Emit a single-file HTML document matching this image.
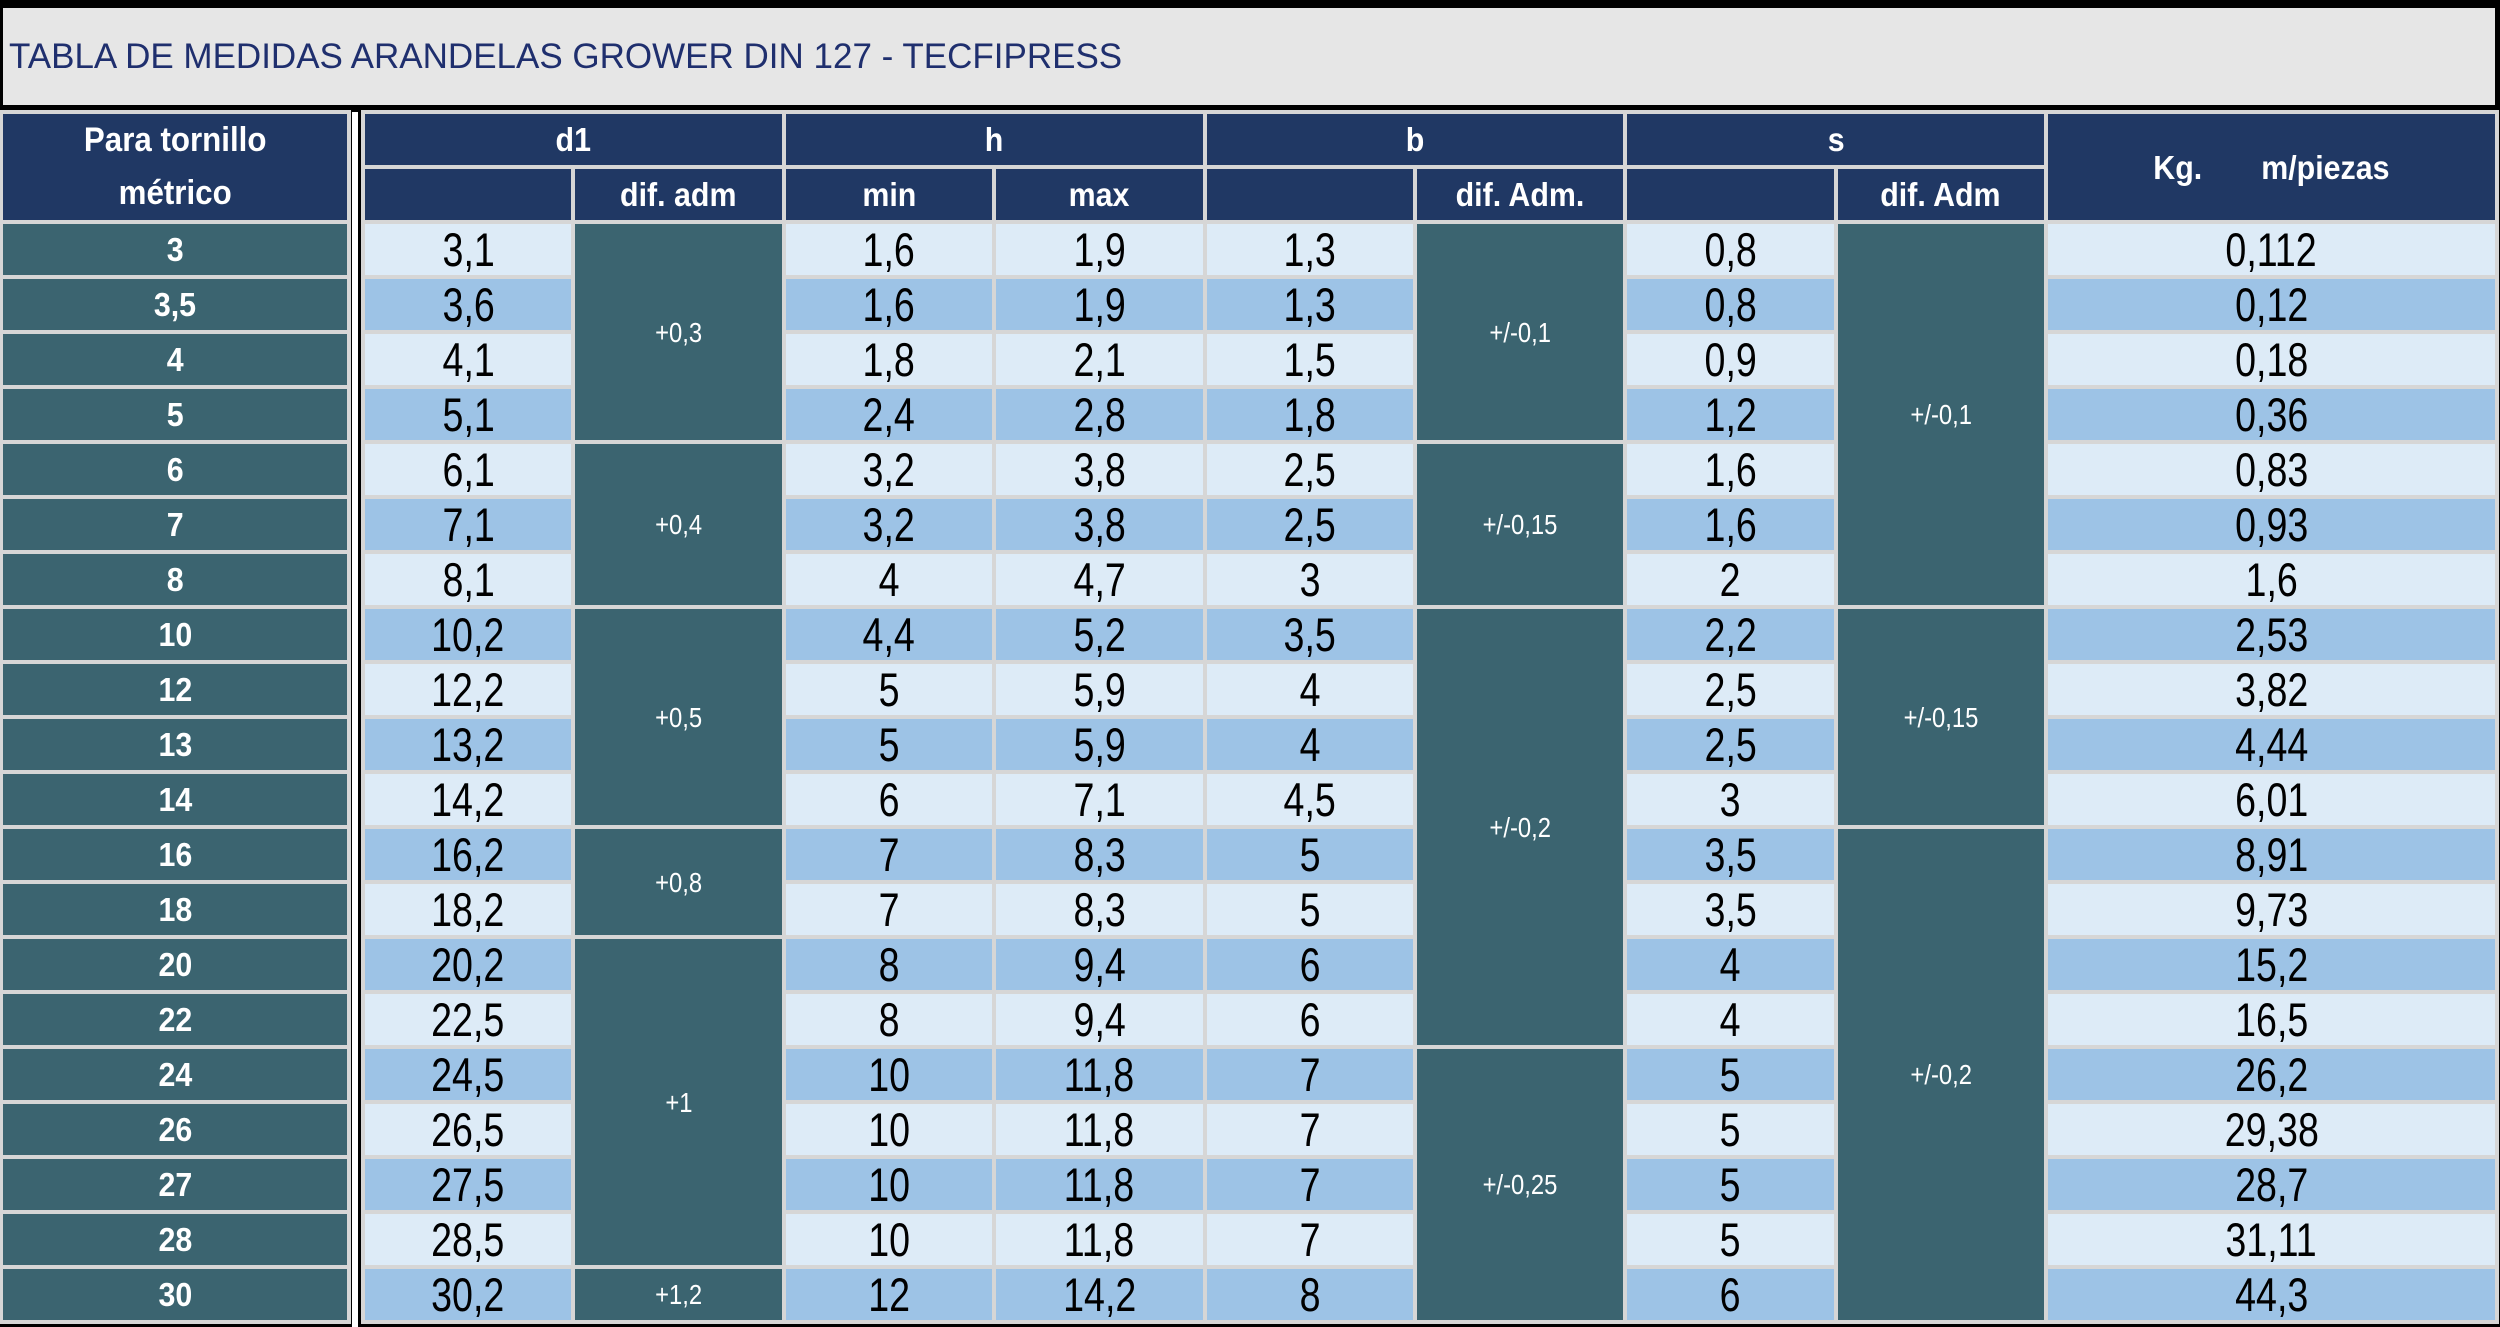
<!DOCTYPE html>
<html><head><meta charset="utf-8"><style>
*{margin:0;padding:0;box-sizing:border-box}
body{width:2500px;height:1327px;background:#000;position:relative;overflow:hidden;font-family:"Liberation Sans",sans-serif}
#title{position:absolute;left:3px;top:8px;width:2492px;height:97px;background:#e6e6e6;color:#1f2f6e;font-size:35px;line-height:97px;padding-left:6px}
#stripe{position:absolute;left:352px;top:112px;width:6px;height:1215px;background:#fff}
table{position:absolute;border-collapse:separate;background:#d6d6d6;table-layout:fixed;border-spacing:4px}
td{text-align:center;vertical-align:middle;height:51px;line-height:51px;padding:0;overflow:hidden;white-space:nowrap}
td span{display:inline-block;transform:scaleX(0.8);line-height:51px}
#left{left:-1px;top:110px;width:352px}
#left td{background:#3b6470;color:#fff;font-weight:bold;font-size:33px}
#left td.hh{background:#203864;height:106px;line-height:53px;font-size:34px}
#left td.hh span{line-height:53px}
#main{left:361px;top:110px;width:2138px}
.h{background:#203864;color:#fff;font-weight:bold;font-size:33px}
.l{background:#ddebf7;color:#000;font-size:47px}
.m{background:#9dc3e6;color:#000;font-size:47px}
.t{background:#3b6470;color:#fff;font-size:28px}
.t span{transform:scaleX(0.85)}
.h span,#left span{transform:scaleX(0.92)}
</style></head><body>
<div id="title">TABLA DE MEDIDAS ARANDELAS GROWER DIN 127 - TECFIPRESS</div>
<table id="left">
<tr><td class="hh"><span>Para tornillo<br>métrico</span></td></tr>
<tr><td><span>3</span></td></tr><tr><td><span>3,5</span></td></tr><tr><td><span>4</span></td></tr><tr><td><span>5</span></td></tr><tr><td><span>6</span></td></tr>
<tr><td><span>7</span></td></tr><tr><td><span>8</span></td></tr><tr><td><span>10</span></td></tr><tr><td><span>12</span></td></tr><tr><td><span>13</span></td></tr>
<tr><td><span>14</span></td></tr><tr><td><span>16</span></td></tr><tr><td><span>18</span></td></tr><tr><td><span>20</span></td></tr><tr><td><span>22</span></td></tr>
<tr><td><span>24</span></td></tr><tr><td><span>26</span></td></tr><tr><td><span>27</span></td></tr><tr><td><span>28</span></td></tr><tr><td><span>30</span></td></tr>
</table>
<div id="stripe"></div>
<table id="main">
<colgroup><col style="width:206px"><col style="width:206px"><col style="width:206px"><col style="width:206px"><col style="width:206px"><col style="width:206px"><col style="width:206px"><col style="width:206px"><col style="width:446px"></colgroup>
<tr><td class="h" colspan="2"><span>d1</span></td><td class="h" colspan="2"><span>h</span></td><td class="h" colspan="2"><span>b</span></td><td class="h" colspan="2"><span>s</span></td><td class="h" rowspan="2"><span>Kg.&nbsp;&nbsp;&nbsp;&nbsp;&nbsp;&nbsp;&nbsp;m/piezas</span></td></tr>
<tr><td class="h"></td><td class="h"><span>dif. adm</span></td><td class="h"><span>min</span></td><td class="h"><span>max</span></td><td class="h"></td><td class="h"><span>dif. Adm.</span></td><td class="h"></td><td class="h"><span>dif. Adm</span></td></tr>
<tr><td class="l"><span>3,1</span></td><td class="t" rowspan="4"><span>+0,3</span></td><td class="l"><span>1,6</span></td><td class="l"><span>1,9</span></td><td class="l"><span>1,3</span></td><td class="t" rowspan="4"><span>+/-0,1</span></td><td class="l"><span>0,8</span></td><td class="t" rowspan="7"><span>+/-0,1</span></td><td class="l"><span>0,112</span></td></tr>
<tr><td class="m"><span>3,6</span></td><td class="m"><span>1,6</span></td><td class="m"><span>1,9</span></td><td class="m"><span>1,3</span></td><td class="m"><span>0,8</span></td><td class="m"><span>0,12</span></td></tr>
<tr><td class="l"><span>4,1</span></td><td class="l"><span>1,8</span></td><td class="l"><span>2,1</span></td><td class="l"><span>1,5</span></td><td class="l"><span>0,9</span></td><td class="l"><span>0,18</span></td></tr>
<tr><td class="m"><span>5,1</span></td><td class="m"><span>2,4</span></td><td class="m"><span>2,8</span></td><td class="m"><span>1,8</span></td><td class="m"><span>1,2</span></td><td class="m"><span>0,36</span></td></tr>
<tr><td class="l"><span>6,1</span></td><td class="t" rowspan="3"><span>+0,4</span></td><td class="l"><span>3,2</span></td><td class="l"><span>3,8</span></td><td class="l"><span>2,5</span></td><td class="t" rowspan="3"><span>+/-0,15</span></td><td class="l"><span>1,6</span></td><td class="l"><span>0,83</span></td></tr>
<tr><td class="m"><span>7,1</span></td><td class="m"><span>3,2</span></td><td class="m"><span>3,8</span></td><td class="m"><span>2,5</span></td><td class="m"><span>1,6</span></td><td class="m"><span>0,93</span></td></tr>
<tr><td class="l"><span>8,1</span></td><td class="l"><span>4</span></td><td class="l"><span>4,7</span></td><td class="l"><span>3</span></td><td class="l"><span>2</span></td><td class="l"><span>1,6</span></td></tr>
<tr><td class="m"><span>10,2</span></td><td class="t" rowspan="4"><span>+0,5</span></td><td class="m"><span>4,4</span></td><td class="m"><span>5,2</span></td><td class="m"><span>3,5</span></td><td class="t" rowspan="8"><span>+/-0,2</span></td><td class="m"><span>2,2</span></td><td class="t" rowspan="4"><span>+/-0,15</span></td><td class="m"><span>2,53</span></td></tr>
<tr><td class="l"><span>12,2</span></td><td class="l"><span>5</span></td><td class="l"><span>5,9</span></td><td class="l"><span>4</span></td><td class="l"><span>2,5</span></td><td class="l"><span>3,82</span></td></tr>
<tr><td class="m"><span>13,2</span></td><td class="m"><span>5</span></td><td class="m"><span>5,9</span></td><td class="m"><span>4</span></td><td class="m"><span>2,5</span></td><td class="m"><span>4,44</span></td></tr>
<tr><td class="l"><span>14,2</span></td><td class="l"><span>6</span></td><td class="l"><span>7,1</span></td><td class="l"><span>4,5</span></td><td class="l"><span>3</span></td><td class="l"><span>6,01</span></td></tr>
<tr><td class="m"><span>16,2</span></td><td class="t" rowspan="2"><span>+0,8</span></td><td class="m"><span>7</span></td><td class="m"><span>8,3</span></td><td class="m"><span>5</span></td><td class="m"><span>3,5</span></td><td class="t" rowspan="9"><span>+/-0,2</span></td><td class="m"><span>8,91</span></td></tr>
<tr><td class="l"><span>18,2</span></td><td class="l"><span>7</span></td><td class="l"><span>8,3</span></td><td class="l"><span>5</span></td><td class="l"><span>3,5</span></td><td class="l"><span>9,73</span></td></tr>
<tr><td class="m"><span>20,2</span></td><td class="t" rowspan="6"><span>+1</span></td><td class="m"><span>8</span></td><td class="m"><span>9,4</span></td><td class="m"><span>6</span></td><td class="m"><span>4</span></td><td class="m"><span>15,2</span></td></tr>
<tr><td class="l"><span>22,5</span></td><td class="l"><span>8</span></td><td class="l"><span>9,4</span></td><td class="l"><span>6</span></td><td class="l"><span>4</span></td><td class="l"><span>16,5</span></td></tr>
<tr><td class="m"><span>24,5</span></td><td class="m"><span>10</span></td><td class="m"><span>11,8</span></td><td class="m"><span>7</span></td><td class="t" rowspan="5"><span>+/-0,25</span></td><td class="m"><span>5</span></td><td class="m"><span>26,2</span></td></tr>
<tr><td class="l"><span>26,5</span></td><td class="l"><span>10</span></td><td class="l"><span>11,8</span></td><td class="l"><span>7</span></td><td class="l"><span>5</span></td><td class="l"><span>29,38</span></td></tr>
<tr><td class="m"><span>27,5</span></td><td class="m"><span>10</span></td><td class="m"><span>11,8</span></td><td class="m"><span>7</span></td><td class="m"><span>5</span></td><td class="m"><span>28,7</span></td></tr>
<tr><td class="l"><span>28,5</span></td><td class="l"><span>10</span></td><td class="l"><span>11,8</span></td><td class="l"><span>7</span></td><td class="l"><span>5</span></td><td class="l"><span>31,11</span></td></tr>
<tr><td class="m"><span>30,2</span></td><td class="t"><span>+1,2</span></td><td class="m"><span>12</span></td><td class="m"><span>14,2</span></td><td class="m"><span>8</span></td><td class="m"><span>6</span></td><td class="m"><span>44,3</span></td></tr>
</table>
</body></html>
